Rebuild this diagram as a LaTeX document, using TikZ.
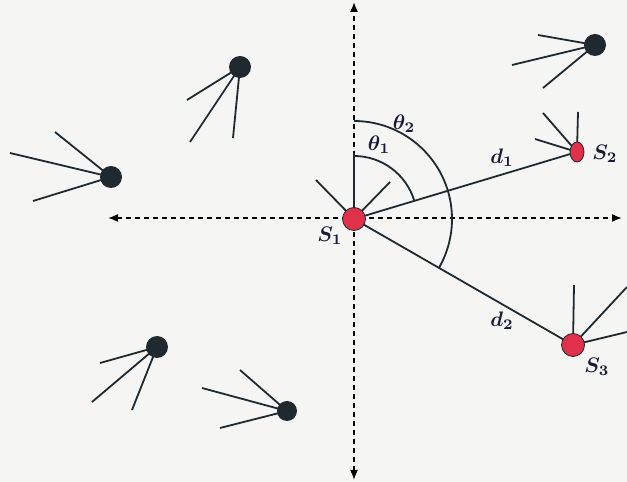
\documentclass[tikz,border=0pt]{standalone}
\usetikzlibrary{arrows.meta,shapes.geometric}
\definecolor{bg}{HTML}{F5F5F3}
\definecolor{sat}{HTML}{1E2A30}
\definecolor{redsat}{HTML}{E0304A}
\definecolor{lbl}{HTML}{1A1A3A}
\begin{document}
\begin{tikzpicture}[x=1pt,y=1pt,
  axis/.style={line width=1.6pt, dash pattern=on 5pt off 4pt, {Latex[length=10pt,width=8pt]}-{Latex[length=10pt,width=8pt]}},
  leg/.style={line width=1.8pt, sat},
  blackdot/.style={circle, fill=sat, minimum size=22pt, inner sep=0pt},
  reddot/.style={circle, fill=redsat, draw=sat, line width=0.8pt, minimum size=23pt, inner sep=0pt},
  redell/.style={ellipse, fill=redsat, draw=sat, line width=0.8pt, minimum width=14pt, minimum height=20pt, inner sep=0pt},
  lab/.style={text=lbl, font=\boldmath, scale=2.1},
  anglearc/.style={line width=1.8pt, sat}]
\fill[bg] (0,0) rectangle (627,482);
\useasboundingbox (0,0) rectangle (627,482);
% axes
\coordinate (xl) at (108,264);
\coordinate (xr) at (622,264);
\coordinate (yt) at (354,480);
\coordinate (yb) at (354,2);
\draw[axis] (xl) -- (xr);
\draw[axis] (yb) -- (yt);
% S1 legs
\coordinate (S1c) at (354,263);
\coordinate (S2c) at (577,330);
\coordinate (S3c) at (573,137);
\coordinate (a1) at (354,329);
\coordinate (a2) at (316,302);
\coordinate (a3) at (390,300);
\draw[leg] (S1c) -- (a1) (S1c) -- (a2) (S1c) -- (a3);
\draw[leg] (S1c) -- (S2c);
\draw[leg] (S1c) -- (S3c);
\node[lab] (dd1) at (502,324) {$d_1$};
\node[lab] (dd2) at (502,161) {$d_2$};
% angle arcs
\draw[anglearc] (354,326) arc[start angle=90, end angle=16.96, radius=63pt];
\draw[anglearc] (354,361) arc[start angle=90, end angle=-29.7, radius=98pt];
\node[lab] (t1) at (379,337) {$\theta_1$};
\node[lab] (t2) at (404,358) {$\theta_2$};
% S2 legs
\coordinate (b1) at (578,370);
\coordinate (b2) at (543,369);
\coordinate (b3) at (535,343);
\draw[leg] (S2c) -- (b1) (S2c) -- (b2) (S2c) -- (b3);
% S3 legs
\coordinate (c1) at (574,197);
\coordinate (c2) at (627,195);
\coordinate (c3) at (627,150);
\draw[leg] (S3c) -- (c1) (S3c) -- (c2) (S3c) -- (c3);
% black satellites
\coordinate (B1) at (240,415);
\coordinate (B2) at (111,305);
\coordinate (B3) at (595,437);
\coordinate (B4) at (157,135);
\coordinate (B5) at (287,71);
\coordinate (e11) at (187,382); \coordinate (e12) at (190,340); \coordinate (e13) at (233,344);
\coordinate (e21) at (55,350);  \coordinate (e22) at (10,329);  \coordinate (e23) at (33,281);
\coordinate (e31) at (538,447); \coordinate (e32) at (512,417); \coordinate (e33) at (543,394);
\coordinate (e41) at (100,119); \coordinate (e42) at (92,80);   \coordinate (e43) at (132,72);
\coordinate (e51) at (240,112); \coordinate (e52) at (202,94);  \coordinate (e53) at (220,54);
\draw[leg] (B1) -- (e11) (B1) -- (e12) (B1) -- (e13);
\draw[leg] (B2) -- (e21) (B2) -- (e22) (B2) -- (e23);
\draw[leg] (B3) -- (e31) (B3) -- (e32) (B3) -- (e33);
\draw[leg] (B4) -- (e41) (B4) -- (e42) (B4) -- (e43);
\draw[leg] (B5) -- (e51) (B5) -- (e52) (B5) -- (e53);
\node[blackdot] (n1) at (B1) {};
\node[blackdot] (n2) at (B2) {};
\node[blackdot] (n3) at (B3) {};
\node[blackdot] (n4) at (B4) {};
\node[blackdot, minimum size=20pt] (n5) at (B5) {};
% red satellites
\node[reddot] (S1) at (S1c) {};
\node[redell] (S2) at (S2c) {};
\node[reddot] (S3) at (S3c) {};
\node[lab] (l1) at (330,246) {$S_1$};
\node[lab] (l2) at (605,328) {$S_2$};
\node[lab] (l3) at (597,115) {$S_3$};
\end{tikzpicture}
\end{document}
